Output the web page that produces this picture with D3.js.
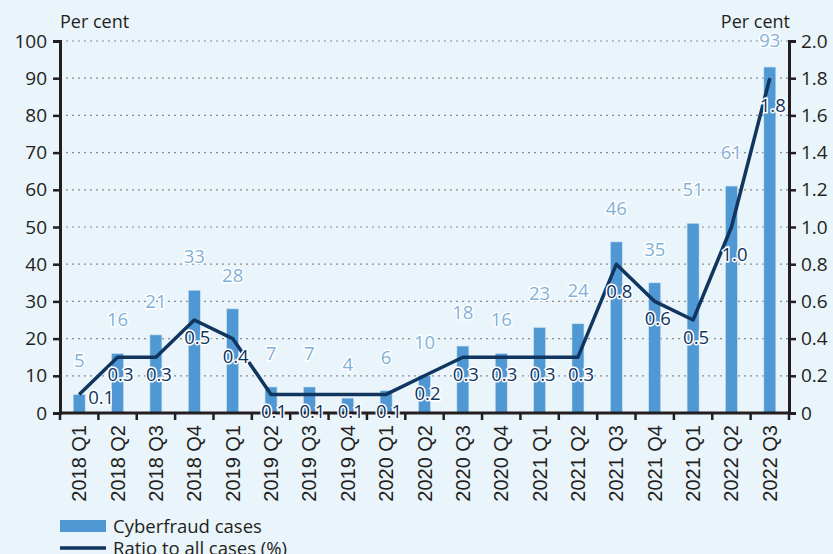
<!DOCTYPE html>
<html>
<head>
<meta charset="utf-8">
<script src="https://cdn.jsdelivr.net/npm/d3@7"></script>
<style>
    body { margin: 0; background: #eaf4fb; }
    svg { display: block; font-family: "Open Sans", "Noto Sans", sans-serif; }
</style>
</head>
<body>
<svg id="chart" width="833" height="554"></svg>
<script>
const quarters = [
    "2018 Q1", "2018 Q2", "2018 Q3", "2018 Q4",
    "2019 Q1", "2019 Q2", "2019 Q3", "2019 Q4",
    "2020 Q1", "2020 Q2", "2020 Q3", "2020 Q4",
    "2021 Q1", "2021 Q2", "2021 Q3", "2021 Q4",
    "2021 Q1", "2022 Q2", "2022 Q3"
]

const cases = [5, 16, 21, 33, 28, 7, 7, 4, 6, 10, 18, 16, 23, 24, 46, 35, 51, 61, 93]

const ratio = [0.1, 0.3, 0.3, 0.5, 0.4, 0.1, 0.1, 0.1, 0.1, 0.2, 0.3, 0.3, 0.3, 0.3, 0.8, 0.6, 0.5, 1.0, 1.8]

const leftTicks = [0, 10, 20, 30, 40, 50, 60, 70, 80, 90, 100]
const rightTicks = [0, 0.2, 0.4, 0.6, 0.8, 1.0, 1.2, 1.4, 1.6, 1.8, 2.0]

const legendNames = ["Cyberfraud cases", "Ratio to all cases (%)"]

let margin = { top: 41, left: 60, right: 44, bottom: 141 };
let svg = d3.select("#chart");
let width = 833, height = 554;
let plotW = width - margin.left - margin.right;
let plotH = height - margin.top - margin.bottom;

let barColor = "#4f98d3";
let lineColor = "#10355f";
let axisColor = "#231f20";
let fontSize = 18.5;

// index based band so the repeated "2021 Q1" label keeps its own slot
let x = d3.scaleBand()
    .domain(d3.range(quarters.length))
    .range([0, plotW]);

let yLeft = d3.scaleLinear().domain([0, 100]).range([plotH, 0]);
let yRight = d3.scaleLinear().domain([0, 2]).range([plotH, 0]);

let plot = svg.append("g")
    .attr("transform", "translate(" + margin.left + "," + margin.top + ")");

// dotted grid
plot.append("g")
    .selectAll("line")
    .data(leftTicks.filter(function(d) { return d > 0; }))
    .enter().append("line")
    .attr("x1", 0)
    .attr("x2", plotW)
    .attr("y1", function(d) { return yLeft(d); })
    .attr("y2", function(d) { return yLeft(d); })
    .attr("stroke", "#8a8a8a")
    .attr("stroke-width", 1.2)
    .attr("stroke-dasharray", "2,4");

// bars
let barW = 12;
plot.append("g")
    .selectAll("rect")
    .data(cases)
    .enter().append("rect")
    .attr("x", function(d, i) { return x(i) + x.bandwidth() / 2 - barW / 2; })
    .attr("y", function(d) { return yLeft(d); })
    .attr("width", barW)
    .attr("height", function(d) { return plotH - yLeft(d); })
    .attr("fill", barColor)
    .attr("stroke", "#cfe3f3")
    .attr("stroke-width", 0.6);

// bar value labels
plot.append("g")
    .selectAll("text")
    .data(cases)
    .enter().append("text")
    .attr("x", function(d, i) { return x(i) + x.bandwidth() / 2; })
    .attr("y", function(d) { return Math.max(yLeft(d) - 27, 6); })
    .attr("text-anchor", "middle")
    .attr("font-size", fontSize)
    .attr("fill", "#7fb1da")
    .attr("stroke", "#ffffff")
    .attr("stroke-width", 3)
    .attr("paint-order", "stroke")
    .text(function(d) { return d; });

// x axis
let xAxis = d3.axisBottom(x).tickSize(0).tickFormat("");
let xGroup = plot.append("g")
    .attr("transform", "translate(0," + plotH + ")")
    .call(xAxis);
xGroup.select(".domain").remove();
xGroup.append("line")
    .attr("x1", 0).attr("x2", plotW)
    .attr("stroke", axisColor).attr("stroke-width", 3);
xGroup.selectAll("line.sep")
    .data(d3.range(quarters.length + 1))
    .enter().append("line")
    .attr("class", "sep")
    .attr("x1", function(d) { return d * x.step(); })
    .attr("x2", function(d) { return d * x.step(); })
    .attr("y1", 0).attr("y2", 7)
    .attr("stroke", axisColor).attr("stroke-width", 2.5);
xGroup.selectAll("text.lab")
    .data(quarters)
    .enter().append("text")
    .attr("class", "lab")
    .attr("transform", function(d, i) {
        return "translate(" + (x(i) + x.bandwidth() / 2 + 7) + ",12) rotate(-90)";
    })
    .attr("text-anchor", "end")
    .attr("font-size", 20)
    .attr("fill", axisColor)
    .text(function(d) { return d; });

// left axis
let yAxisL = d3.axisLeft(yLeft).tickValues(leftTicks).tickSize(7).tickPadding(6);
let yL = plot.append("g").call(yAxisL);
yL.select(".domain").attr("stroke", axisColor).attr("stroke-width", 3);
yL.selectAll(".tick line").attr("stroke", axisColor).attr("stroke-width", 2.5);
yL.selectAll(".tick text")
    .attr("font-size", 19).attr("fill", axisColor)
    .attr("font-family", "'Open Sans', 'Noto Sans', sans-serif");

// right axis
let yAxisR = d3.axisRight(yRight).tickValues(rightTicks).tickSize(7).tickPadding(5)
    .tickFormat(function(d) { return d === 0 ? "0" : d3.format(".1f")(d); });
let yR = plot.append("g")
    .attr("transform", "translate(" + plotW + ",0)")
    .call(yAxisR);
yR.select(".domain").attr("stroke", axisColor).attr("stroke-width", 3);
yR.selectAll(".tick line").attr("stroke", axisColor).attr("stroke-width", 2.5);
yR.selectAll(".tick text")
    .attr("font-size", 19).attr("fill", axisColor)
    .attr("font-family", "'Open Sans', 'Noto Sans', sans-serif");

// ratio line
let line = d3.line()
    .x(function(d, i) { return x(i) + x.bandwidth() / 2; })
    .y(function(d) { return yRight(d); });

plot.append("path")
    .datum(ratio)
    .attr("d", line)
    .attr("fill", "none")
    .attr("stroke", lineColor)
    .attr("stroke-width", 3.5)
    .attr("stroke-linejoin", "round");

// labels sit under the line, a little further down where it climbs steeply
plot.append("g")
    .selectAll("text")
    .data(ratio)
    .enter().append("text")
    .attr("x", function(d, i) { return x(i) + x.bandwidth() / 2 + (i === 0 ? 22 : 3); })
    .attr("y", function(d, i) {
        if (i === 0) return yRight(d) + 10;
        return yRight(d) + 24 + (d >= 0.8 ? 10 : 0);
    })
    .attr("text-anchor", "middle")
    .attr("font-size", fontSize)
    .attr("fill", lineColor)
    .attr("stroke", "#ffffff")
    .attr("stroke-width", 3)
    .attr("paint-order", "stroke")
    .text(function(d) { return d3.format(".1f")(d); });

// axis titles
svg.append("text")
    .attr("x", margin.left).attr("y", 28)
    .attr("font-size", 18).attr("fill", axisColor)
    .text("Per cent");
svg.append("text")
    .attr("x", margin.left + plotW + 1).attr("y", 28)
    .attr("text-anchor", "end")
    .attr("font-size", 18).attr("fill", axisColor)
    .text("Per cent");

// legend
let legend = svg.append("g").attr("transform", "translate(60,520)");
legend.append("rect")
    .attr("x", 0).attr("y", 0).attr("width", 46).attr("height", 12)
    .attr("fill", barColor);
legend.append("text")
    .attr("x", 53).attr("y", 13)
    .attr("font-size", fontSize).attr("fill", axisColor)
    .text(legendNames[0]);
legend.append("line")
    .attr("x1", 0).attr("x2", 46).attr("y1", 28).attr("y2", 28)
    .attr("stroke", lineColor).attr("stroke-width", 3.5);
legend.append("text")
    .attr("x", 53).attr("y", 35)
    .attr("font-size", fontSize).attr("fill", axisColor)
    .text(legendNames[1]);
</script>
</body>
</html>
